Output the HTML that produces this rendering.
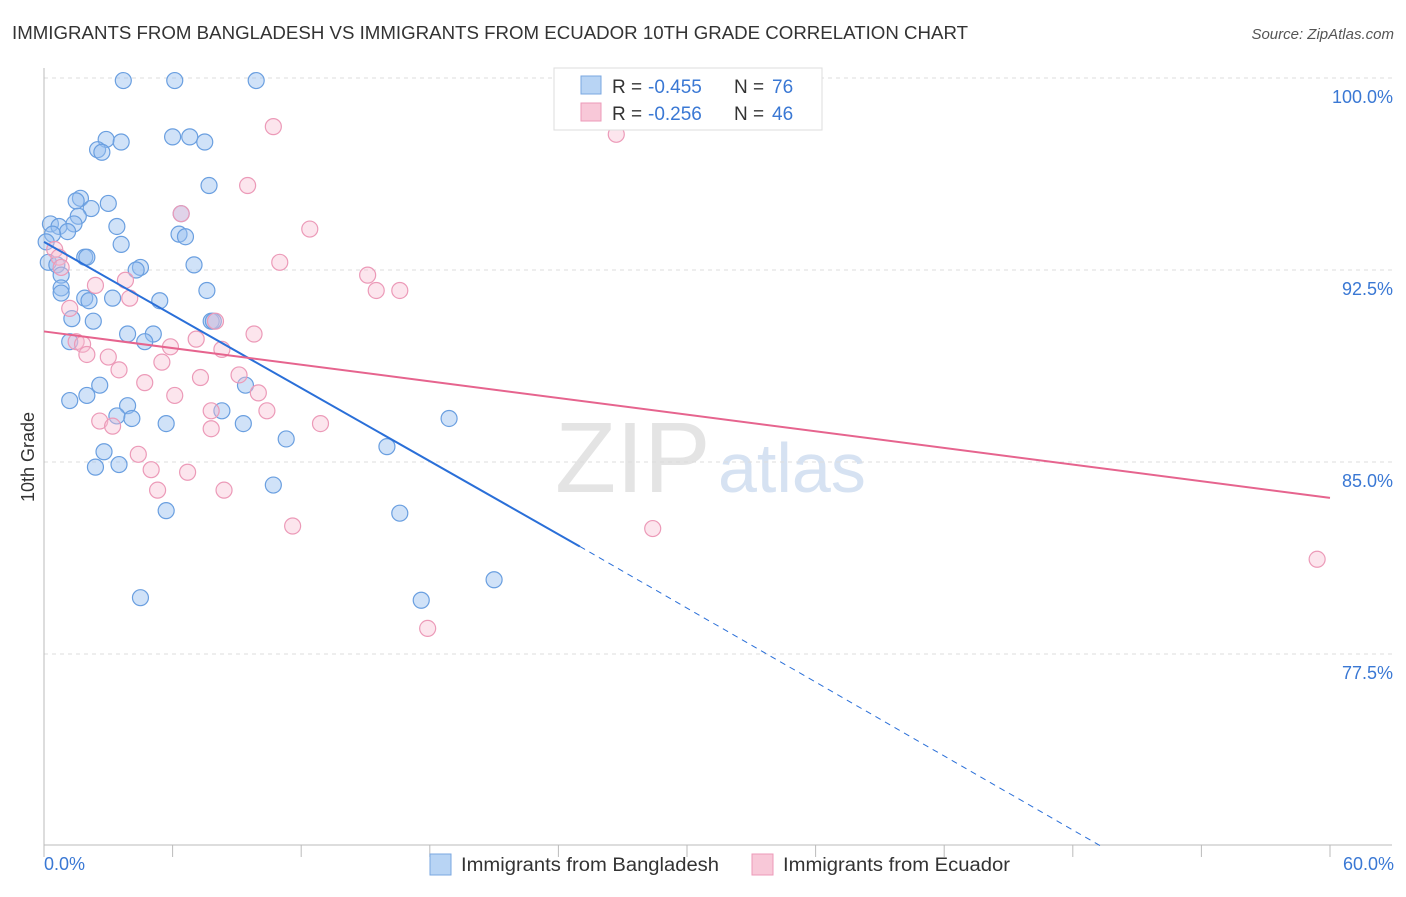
<!DOCTYPE html>
<html><head><meta charset="utf-8"><style>
body{margin:0;background:#fff;font-family:"Liberation Sans",sans-serif}
svg text{font-family:"Liberation Sans",sans-serif}
</style></head><body>
<svg id="chart" width="1406" height="892">
<text x="12" y="39" font-size="18" fill="#333" textLength="956" lengthAdjust="spacingAndGlyphs">IMMIGRANTS FROM BANGLADESH VS IMMIGRANTS FROM ECUADOR 10TH GRADE CORRELATION CHART</text>
<text x="1394" y="39" font-size="15" fill="#555" text-anchor="end" font-style="italic">Source: ZipAtlas.com</text>
<text x="555" y="492" font-size="100" fill="#e4e4e4" font-family="Liberation Serif">ZIP</text>
<text x="718" y="492" font-size="70" fill="#d6e2f2">atlas</text>
<text transform="translate(34,457) rotate(-90)" font-size="18" fill="#333" text-anchor="middle">10th Grade</text>
<g id="grid"></g><g id="axes"></g><g id="marks"></g>
<g>
<rect x="554" y="68" width="268" height="62" fill="#fff" stroke="#ddd"/>
<rect x="581" y="76" width="20" height="18" fill="#b8d4f4" stroke="#7aa7e0"/>
<rect x="581" y="103" width="20" height="18" fill="#f8c8d8" stroke="#ec9ab8"/>
<text x="612" y="93" font-size="19" fill="#333">R =</text><text x="648" y="93" font-size="19" fill="#3a78d4">-0.455</text>
<text x="734" y="93" font-size="19" fill="#333">N =</text><text x="772" y="93" font-size="19" fill="#3a78d4">76</text>
<text x="612" y="120" font-size="19" fill="#333">R =</text><text x="648" y="120" font-size="19" fill="#3a78d4">-0.256</text>
<text x="734" y="120" font-size="19" fill="#333">N =</text><text x="772" y="120" font-size="19" fill="#3a78d4">46</text>
</g>
<g>
<rect x="430" y="854" width="21" height="21" fill="#b8d4f4" stroke="#7aa7e0"/>
<text x="461" y="871" font-size="19" fill="#333" textLength="258" lengthAdjust="spacingAndGlyphs">Immigrants from Bangladesh</text>
<rect x="752" y="854" width="21" height="21" fill="#f8c8d8" stroke="#ec9ab8"/>
<text x="783" y="871" font-size="19" fill="#333" textLength="227" lengthAdjust="spacingAndGlyphs">Immigrants from Ecuador</text>
</g>
</svg>
<script>
const yTicks=[100,92.5,85,77.5];
const yTickLabels=["100.0%","92.5%","85.0%","77.5%"];
const xTickLabels=["0.0%","60.0%"];
const blueX=[3.7,6.1,9.9,2.9,3.6,2.5,2.7,6.0,6.8,7.5,7.7,1.7,3.0,1.5,2.2,1.6,0.3,0.7,1.4,3.4,1.1,0.4,6.4,6.3,6.6,3.6,0.1,1.9,2.0,0.2,0.6,4.5,4.3,7.0,0.8,0.8,0.8,7.6,1.9,2.1,3.2,5.4,2.3,1.3,7.8,7.9,3.9,5.1,4.7,1.2,9.4,2.6,2.0,1.2,3.9,3.4,4.1,5.7,8.3,9.3,18.9,11.3,16.0,2.8,2.4,3.5,10.7,5.7,16.6,21.0,4.5,17.6];
const blueY=[99.9,99.9,99.9,97.6,97.5,97.2,97.1,97.7,97.7,97.5,95.8,95.3,95.1,95.2,94.9,94.6,94.3,94.2,94.3,94.2,94.0,93.9,94.7,93.9,93.8,93.5,93.6,93.0,93.0,92.8,92.7,92.6,92.5,92.7,92.3,91.8,91.6,91.7,91.4,91.3,91.4,91.3,90.5,90.6,90.5,90.5,90.0,90.0,89.7,89.7,88.0,88.0,87.6,87.4,87.2,86.8,86.7,86.5,87.0,86.5,86.7,85.9,85.6,85.4,84.8,84.9,84.1,83.1,83.0,80.4,79.7,79.6];
const pinkX=[10.7,26.7,9.5,6.4,12.4,0.5,0.7,0.8,11.0,15.1,15.5,16.6,2.4,3.8,4.0,1.2,8.0,9.8,1.5,1.8,2.0,7.1,5.9,3.0,3.5,5.5,8.3,9.1,7.3,4.7,6.1,10.0,10.4,2.6,3.2,7.8,7.8,12.9,4.4,5.0,6.7,5.3,8.4,11.6,28.4,59.4,17.9];
const pinkY=[98.1,97.8,95.8,94.7,94.1,93.3,93.0,92.6,92.8,92.3,91.7,91.7,91.9,92.1,91.4,91.0,90.5,90.0,89.7,89.6,89.2,89.8,89.5,89.1,88.6,88.9,89.4,88.4,88.3,88.1,87.6,87.7,87.0,86.6,86.4,87.0,86.3,86.5,85.3,84.7,84.6,83.9,83.9,82.5,82.4,81.2,78.5];
const blueLine=[[0,93.6],[25,81.7]];
const blueDash=[[25,81.7],[49.3,70]];
const pinkLine=[[0,90.1],[60,83.6]];
const NS="http://www.w3.org/2000/svg";
const X=v=>44+v*(1330-44)/60;
const Y=v=>78+(100-v)*25.6;
function mk(tag,attrs,parent){const e=document.createElementNS(NS,tag);for(const k in attrs)e.setAttribute(k,attrs[k]);parent.appendChild(e);return e;}
const grid=document.getElementById('grid'),axes=document.getElementById('axes'),marks=document.getElementById('marks');
yTicks.forEach((t,i)=>{
 const l=mk('line',{x1:44,x2:1392,y1:Y(t),y2:Y(t),stroke:'#ddd','stroke-dasharray':'4,4'},grid);
 
 
 const tx=mk('text',{x:1393,y:Y(t)+25,'font-size':18,fill:'#3a78d4','text-anchor':'end'},axes);
 tx.textContent=yTickLabels[i];
 
 
});
mk('line',{x1:44,x2:44,y1:68,y2:845,stroke:'#bbb'},axes);
mk('line',{x1:44,x2:1392,y1:845,y2:845,stroke:'#bbb'},axes);
for(let i=0;i<=10;i++){const t=mk('line',{x1:X(i*6),x2:X(i*6),y1:845,y2:857,stroke:'#bbb'},axes);
 
 }
[[0,'start',44],[60,'end',1394]].forEach((d,i)=>{const t=mk('text',{x:d[2],y:870,'font-size':18,fill:'#3a78d4','text-anchor':d[1]},axes);t.textContent=xTickLabels[i];
 
 });
blueX.forEach((v,i)=>{const c=mk('circle',{cx:X(v),cy:Y(blueY[i]),r:8,fill:'rgba(150,190,240,0.45)',stroke:'#6a9fe0','stroke-width':1.2},marks);
 
 });
pinkX.forEach((v,i)=>{const c=mk('circle',{cx:X(v),cy:Y(pinkY[i]),r:8,fill:'rgba(248,190,210,0.4)',stroke:'#ec9ab8','stroke-width':1.2},marks);
 
 });
const bl=mk('line',{x1:X(blueLine[0][0]),y1:Y(blueLine[0][1]),x2:X(blueLine[1][0]),y2:Y(blueLine[1][1]),stroke:'#2a6fd8','stroke-width':2},marks);


const bd=mk('line',{x1:X(blueDash[0][0]),y1:Y(blueDash[0][1]),x2:X(blueDash[1][0]),y2:Y(blueDash[1][1]),stroke:'#2a6fd8','stroke-width':1,'stroke-dasharray':'6,5'},marks);


const pl=mk('line',{x1:X(pinkLine[0][0]),y1:Y(pinkLine[0][1]),x2:X(pinkLine[1][0]),y2:Y(pinkLine[1][1]),stroke:'#e6648e','stroke-width':2},marks);


</script>
</body></html>
